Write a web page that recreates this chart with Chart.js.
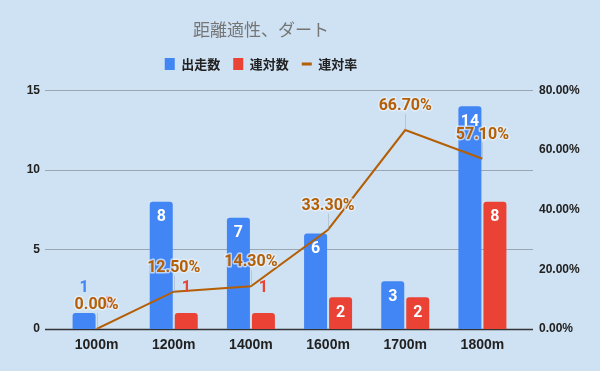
<!DOCTYPE html>
<html>
<head>
<meta charset="utf-8">
<script src="https://cdn.jsdelivr.net/npm/chart.js@4"></script>
<style>
  html, body { margin: 0; padding: 0; background: #cfe2f3; }
  #wrap { width: 600px; height: 371px; }
</style>
</head>
<body>
<div id="wrap"><canvas id="distChart"></canvas></div>
<script>
// Data
const labels = ["1000m", "1200m", "1400m", "1600m", "1700m", "1800m"];
const startsData = [1, 8, 7, 6, 3, 14]; // 出走数
const topTwoData = [0, 1, 1, 2, 2, 8]; // 連対数
const topTwoRate = [0, 12.5, 14.3, 33.3, 66.7, 57.1]; // 連対率 (%)
const countTicks = [0, 5, 10, 15];
const rateTicks = [0, 20, 40, 60, 80];

const BLUE = "#4285f4";
const RED = "#ea4335";
const ORANGE = "#b45f06";

Chart.defaults.font.family = "Roboto, 'Noto Sans CJK JP', sans-serif";
Chart.defaults.color = "#212121";

// horizontal grid lines, a bit wider than the plot like in Sheets
const gridLines = {
  id: "gridLines",
  beforeDatasetsDraw(chart) {
    const { ctx, chartArea, scales } = chart;
    ctx.save();
    scales.y.ticks.forEach(function (t) {
      const py = Math.round(scales.y.getPixelForValue(t.value)) + 0.5;
      ctx.beginPath();
      ctx.strokeStyle = t.value === 0 ? "#333333" : "#9aa6b2";
      ctx.lineWidth = t.value === 0 ? 1.5 : 1;
      ctx.moveTo(chartArea.left - 13, py);
      ctx.lineTo(chartArea.right + 12, py);
      ctx.stroke();
    });
    ctx.restore();
  },
};

// data labels (no datalabels plugin available)
const valueLabels = {
  id: "valueLabels",
  afterDatasetsDraw(chart) {
    const ctx = chart.ctx;
    ctx.save();
    ctx.textAlign = "center";
    ctx.textBaseline = "middle";
    ctx.font = "bold 16px Roboto";
    [0, 1].forEach(function (di) {
      const ds = chart.data.datasets[di];
      chart.getDatasetMeta(di).data.forEach(function (bar, i) {
        const v = ds.data[i];
        if (v >= 2) {
          ctx.fillStyle = "#ffffff";
          ctx.fillText(String(v), bar.x, bar.y + 15.5);
        } else {
          ctx.fillStyle = ds.backgroundColor;
          ctx.fillText(String(v), bar.x, bar.y - 25.5);
        }
      });
    });
    // rate labels
    const rateDs = chart.data.datasets[2];
    chart.getDatasetMeta(2).data.forEach(function (pt, i) {
      const ty = pt.y - 24;
      ctx.beginPath();
      ctx.strokeStyle = "rgba(150,165,180,0.45)";
      ctx.lineWidth = 1;
      ctx.moveTo(Math.round(pt.x) + 0.5, ty + 8);
      ctx.lineTo(Math.round(pt.x) + 0.5, pt.y);
      ctx.stroke();
      const txt = rateDs.data[i].toFixed(2) + "%";
      ctx.lineWidth = 3;
      ctx.lineJoin = "round";
      ctx.strokeStyle = "rgba(235,242,250,0.7)";
      ctx.strokeText(txt, pt.x, ty);
      ctx.fillStyle = ORANGE;
      ctx.fillText(txt, pt.x, ty);
    });
    ctx.restore();
  },
};

// Sheets centres the header a little left of the canvas centre
const shiftHeader = {
  id: "shiftHeader",
  afterLayout(chart) {
    const right = chart.width - 78;
    [chart.titleBlock, chart.legend].forEach(function (b) {
      if (b) {
        b.left = 0;
        b.right = right;
      }
    });
  },
};

const ctx = document.getElementById("distChart").getContext("2d");
const myChart = new Chart(ctx, {
  type: "bar",
  data: {
    labels: labels,
    datasets: [
      {
        label: "出走数",
        data: startsData,
        backgroundColor: BLUE,
        borderRadius: 3,
        categoryPercentage: 0.648,
        barPercentage: 0.92,
        yAxisID: "y",
        order: 1,
      },
      {
        label: "連対数",
        data: topTwoData,
        backgroundColor: RED,
        borderRadius: 3,
        categoryPercentage: 0.648,
        barPercentage: 0.92,
        yAxisID: "y",
        order: 2,
      },
      {
        type: "line",
        label: "連対率",
        data: topTwoRate,
        borderColor: ORANGE,
        backgroundColor: ORANGE,
        borderWidth: 2,
        pointRadius: 0,
        tension: 0,
        yAxisID: "y1",
        order: 0, // drawn on top of the bars
      },
    ],
  },
  options: {
    responsive: true,
    maintainAspectRatio: false,
    animation: false,
    layout: { padding: 0 },
    scales: {
      x: {
        offset: true,
        grid: { display: false, drawTicks: false },
        border: { display: false },
        ticks: {
          color: "#212121",
          font: { family: "'Liberation Sans', Arial, sans-serif", size: 14, weight: "bold" },
          padding: 8,
        },
        afterFit: function (s) { s.height = 42; },
      },
      y: {
        position: "left",
        min: countTicks[0],
        max: countTicks[countTicks.length - 1],
        ticks: {
          stepSize: countTicks[1] - countTicks[0],
          padding: 18,
          color: "#212121",
          font: { family: "'Liberation Sans', Arial, sans-serif", size: 12, weight: "bold" },
        },
        grid: { display: false, drawTicks: false },
        border: { display: false },
        afterFit: function (s) { s.width = 58; },
      },
      y1: {
        position: "right",
        min: rateTicks[0],
        max: rateTicks[rateTicks.length - 1],
        ticks: {
          stepSize: rateTicks[1] - rateTicks[0],
          padding: 18,
          color: "#212121",
          font: { family: "'Liberation Sans', Arial, sans-serif", size: 12, weight: "bold" },
          callback: function (v) { return v.toFixed(2) + "%"; },
        },
        grid: { display: false, drawTicks: false },
        border: { display: false },
        afterFit: function (s) { s.width = 79; },
      },
    },
    plugins: {
      title: {
        display: true,
        text: "距離適性、ダート",
        color: "#757575",
        font: { family: "'Noto Sans CJK JP', sans-serif", size: 17, weight: "normal", lineHeight: 1.2 },
        padding: { top: 19, bottom: 5 },
      },
      subtitle: {
        // empty spacer between legend and plot
        display: true,
        text: "",
        weight: 500,
        font: { size: 10, lineHeight: 1 },
        padding: 0,
      },
      legend: {
        display: true,
        position: "top",
        labels: {
          color: "#212121",
          font: { family: "'Noto Sans CJK JP', sans-serif", size: 13, weight: "bold" },
          usePointStyle: true,
          pointStyleWidth: 10,
          boxHeight: 12,
          padding: 13,
          generateLabels: function (chart) {
            const items = Chart.defaults.plugins.legend.labels.generateLabels(chart);
            items.sort(function (a, b) { return a.datasetIndex - b.datasetIndex; });
            items.forEach(function (it) {
              if (it.datasetIndex === 2) {
                it.pointStyle = "line";
                it.lineWidth = 3;
                it.strokeStyle = ORANGE;
              } else {
                it.pointStyle = "rect";
                it.lineWidth = 0;
              }
            });
            return items;
          },
        },
      },
      tooltip: { enabled: false },
    },
  },
  plugins: [gridLines, valueLabels, shiftHeader],
});
</script>
</body>
</html>
